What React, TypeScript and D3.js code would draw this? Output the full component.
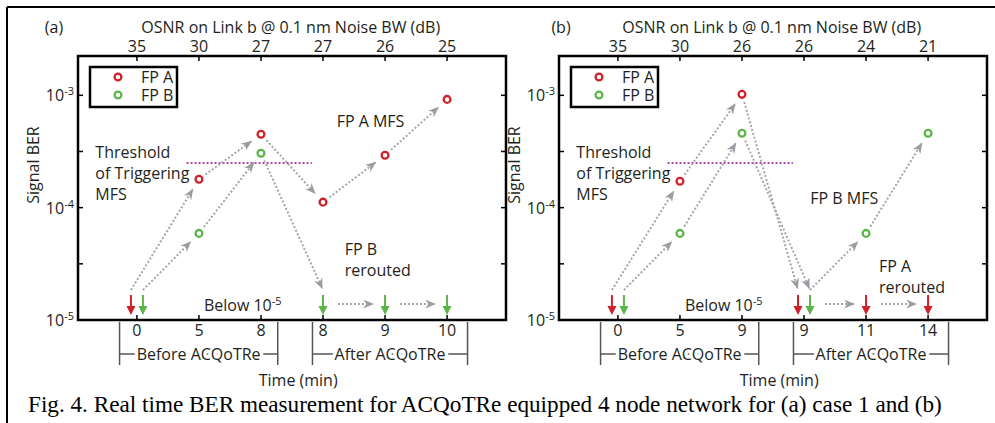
import React from 'react';
import * as d3 from 'd3';

// ---- data ----
const OSNR_A = ['35', '30', '27', '27', '26', '25'];
const TIME_A = ['0', '5', '8', '8', '9', '10'];
const FPA_A = ['below', 1.79e-4, 4.5e-4, 1.12e-4, 2.93e-4, 9.2e-4];
const FPB_A = ['below', 5.9e-5, 3.05e-4, 'below', 'below', 'below'];
const FLOWS_A = [
  ['A', 0, 'A', 1], ['B', 0, 'B', 1], ['A', 1, 'A', 2], ['B', 1, 'B', 2],
  ['A', 2, 'A', 3], ['B', 2, 'B', 3], ['A', 3, 'A', 4], ['A', 4, 'A', 5],
  ['B', 3, 'B', 4], ['B', 4, 'B', 5],
];

const OSNR_B = ['35', '30', '26', '26', '24', '21'];
const TIME_B = ['0', '5', '9', '9', '11', '14'];
const FPA_B = ['below', 1.72e-4, 1.02e-3, 'below', 'below', 'below'];
const FPB_B = ['below', 5.9e-5, 4.6e-4, 'below', 5.9e-5, 4.6e-4];
const FLOWS_B = [
  ['A', 0, 'A', 1], ['B', 0, 'B', 1], ['A', 1, 'A', 2], ['B', 1, 'B', 2],
  ['A', 2, 'A', 3], ['B', 2, 'B', 3], ['B', 3, 'B', 4], ['B', 4, 'B', 5],
  ['B', 3, 'A', 4], ['A', 4, 'A', 5],
];

const THRESHOLD = 2.5e-4;
const Y_TICKS = [-5, -4.5, -4, -3.5, -3];
const Y_LABELS = [-5, -4, -3];
const SERIES_NAMES = ['FP A', 'FP B'];

const RED = '#d2202a';
const GREEN = '#5cb548';
const GRAY = '#a3a7ab';
const INK = '#231f20';
const SANS = '"Open Sans", sans-serif';
const FS = 16;

const TOP = 56;
const BOTTOM = 320;

const PANELS = [
  {
    id: 'a', label: '(a)', labelX: 54, left: 78, right: 506,
    osnr: OSNR_A, time: TIME_A, fpA: FPA_A, fpB: FPB_A, flows: FLOWS_A,
    notes: [
      { lines: ['Threshold', 'of Triggering', 'MFS'], i: -0.67, e: -3.56 },
      { lines: ['FP A MFS'], i: 3.22, e: -3.28 },
      { lines: ['FP B', 'rerouted'], i: 3.35, e: -4.42 },
    ],
  },
  {
    id: 'b', label: '(b)', labelX: 561, left: 559, right: 987,
    osnr: OSNR_B, time: TIME_B, fpA: FPA_B, fpB: FPB_B, flows: FLOWS_B,
    notes: [
      { lines: ['Threshold', 'of Triggering', 'MFS'], i: -0.67, e: -3.56 },
      { lines: ['FP B MFS'], i: 3.1, e: -3.97 },
      { lines: ['FP A', 'rerouted'], i: 4.21, e: -4.57 },
    ],
  },
];

function Pow({ x, y, exp, anchor = 'end', prefix = '' }) {
  return (
    <text x={x} y={y} textAnchor={anchor} fontSize={FS} fill={INK} fontFamily={SANS}>
      {prefix}10
      <tspan dy={-6} fontSize={11}>{exp}</tspan>
    </text>
  );
}

function Panel({ cfg }) {
  const x = d3.scaleLinear().domain([-0.95, 5.95]).range([cfg.left, cfg.right]);
  const y = d3.scaleLog().domain([1e-5, Math.pow(10, -2.65)]).range([BOTTOM, TOP]);
  const y0 = y(1e-5);
  const idx = d3.range(cfg.osnr.length);

  const val = (k, i) => (k === 'A' ? cfg.fpA[i] : cfg.fpB[i]);
  const both = (i) => cfg.fpA[i] === 'below' && cfg.fpB[i] === 'below';
  const px = (k, i) => x(i) + (val(k, i) === 'below' && both(i) ? (k === 'A' ? -6 : 6) : 0);
  const anchor = (k, i) => {
    const v = val(k, i);
    return v === 'below'
      ? { x: px(k, i), y: y0 - 30, below: true }
      : { x: x(i), y: y(v), below: false };
  };

  const flows = cfg.flows.map(([k1, i1, k2, i2], n) => {
    const a = anchor(k1, i1);
    const b = anchor(k2, i2);
    if (a.below && b.below) {
      return { key: n, x1: a.x + 15, y1: y0 - 16, x2: b.x - 12, y2: y0 - 16 };
    }
    const len = Math.hypot(b.x - a.x, b.y - a.y);
    const ux = (b.x - a.x) / len;
    const uy = (b.y - a.y) / len;
    const s = a.below ? 0 : 8;
    const e = b.below ? 2 : 12;
    return { key: n, x1: a.x + ux * s, y1: a.y + uy * s, x2: b.x - ux * e, y2: b.y - uy * e };
  });

  const series = [
    { k: 'A', color: RED, values: cfg.fpA },
    { k: 'B', color: GREEN, values: cfg.fpB },
  ];

  const brackets = [
    { a: -0.28, b: 2.27, text: 'Before ACQoTRe' },
    { a: 2.83, b: 5.33, text: 'After ACQoTRe' },
  ];

  return (
    <g>
      {/* titles */}
      <text x={cfg.labelX} y={33} textAnchor="middle" fontSize={FS} fill={INK} fontFamily={SANS}>{cfg.label}</text>
      <text x={x(2.48)} y={33} textAnchor="middle" fontSize={FS} fill={INK} fontFamily={SANS}>
        OSNR on Link b @ 0.1 nm Noise BW (dB)
      </text>
      <text
        transform={`translate(${cfg.left - 39},165) rotate(-90)`}
        textAnchor="middle" fontSize={FS} fill={INK} fontFamily={SANS}
      >
        Signal BER
      </text>

      {/* threshold */}
      <line
        x1={x(0.8)} x2={x(2.82)} y1={y(THRESHOLD)} y2={y(THRESHOLD)}
        stroke="#b0479e" strokeWidth={2} strokeDasharray="2 2"
      />

      {/* gray dotted flow arrows */}
      {flows.map((f) => (
        <line
          key={f.key} x1={f.x1} y1={f.y1} x2={f.x2} y2={f.y2}
          stroke={GRAY} strokeWidth={2} strokeDasharray="2 2"
          markerEnd={`url(#head-${cfg.id})`}
        />
      ))}

      {/* markers */}
      {series.map((s) =>
        s.values.map((v, i) => {
          if (v === null) return null;
          if (v === 'below') {
            const cx = px(s.k, i);
            return (
              <g key={s.k + i}>
                <line x1={cx} x2={cx} y1={y0 - 25} y2={y0 - 12} stroke={s.color} strokeWidth={2} />
                <path d={`M${cx - 4.5},${y0 - 14}L${cx + 4.5},${y0 - 14}L${cx},${y0 - 5}Z`} fill={s.color} />
              </g>
            );
          }
          return (
            <circle key={s.k + i} cx={x(i)} cy={y(v)} r={3.4} fill="#fff" stroke={s.color} strokeWidth={2.3} />
          );
        })
      )}

      {/* notes */}
      {cfg.notes.map((n, j) => (
        <text key={j} x={x(n.i)} y={y(Math.pow(10, n.e))} fontSize={FS} fill={INK} fontFamily={SANS}>
          {n.lines.map((l, m) => (
            <tspan key={m} x={x(n.i)} dy={m === 0 ? 0 : 21}>{l}</tspan>
          ))}
        </text>
      ))}
      <Pow x={x(1.08)} y={y0 - 9} exp="-5" anchor="start" prefix="Below " />

      {/* axes box */}
      <rect x={cfg.left} y={TOP} width={cfg.right - cfg.left} height={BOTTOM - TOP} fill="none" stroke="#000" strokeWidth={2.5} />
      {idx.map((i) => (
        <g key={i}>
          <line x1={x(i)} x2={x(i)} y1={TOP} y2={TOP + 5} stroke="#000" strokeWidth={1.5} />
          <line x1={x(i)} x2={x(i)} y1={BOTTOM} y2={BOTTOM - 5} stroke="#000" strokeWidth={1.5} />
          <text x={x(i)} y={52} textAnchor="middle" fontSize={FS} fill={INK} fontFamily={SANS}>{cfg.osnr[i]}</text>
          <text x={x(i)} y={336} textAnchor="middle" fontSize={FS} fill={INK} fontFamily={SANS}>{cfg.time[i]}</text>
        </g>
      ))}
      {Y_TICKS.map((e) => (
        <g key={e}>
          <line x1={cfg.left} x2={cfg.left + 5} y1={y(Math.pow(10, e))} y2={y(Math.pow(10, e))} stroke="#000" strokeWidth={1.5} />
          <line x1={cfg.right} x2={cfg.right - 5} y1={y(Math.pow(10, e))} y2={y(Math.pow(10, e))} stroke="#000" strokeWidth={1.5} />
        </g>
      ))}
      {Y_LABELS.map((e) => (
        <Pow key={e} x={cfg.left - 4} y={y(Math.pow(10, e)) + 6} exp={String(e)} />
      ))}

      {/* legend */}
      <rect x={cfg.left + 12} y={TOP + 11} width={87} height={40} fill="#fff" stroke="#000" strokeWidth={2.5} />
      {SERIES_NAMES.map((name, j) => (
        <g key={name}>
          <circle cx={cfg.left + 40} cy={TOP + 21 + j * 18} r={3.4} fill="#fff" stroke={j === 0 ? RED : GREEN} strokeWidth={2.3} />
          <text x={cfg.left + 63} y={TOP + 26.5 + j * 18} fontSize={FS} fill={INK} fontFamily={SANS}>{name}</text>
        </g>
      ))}

      {/* period brackets */}
      {brackets.map((b) => (
        <g key={b.text} stroke="#555" strokeWidth={1.5}>
          <line x1={x(b.a)} x2={x(b.a)} y1={322} y2={365} />
          <line x1={x(b.b)} x2={x(b.b)} y1={322} y2={365} />
          <line x1={x(b.a)} x2={x(b.b)} y1={354} y2={354} />
          <text
            x={(x(b.a) + x(b.b)) / 2} y={359.5} textAnchor="middle" fontSize={FS}
            fill={INK} stroke="#fff" strokeWidth={7} paintOrder="stroke" fontFamily={SANS}
          >
            {b.text}
          </text>
        </g>
      ))}
      <text x={x(2.6)} y={386} textAnchor="middle" fontSize={FS} fill={INK} fontFamily={SANS}>Time (min)</text>

      <defs>
        <marker
          id={`head-${cfg.id}`} viewBox="0 0 10 8" refX={9} refY={4}
          markerWidth={11} markerHeight={9} markerUnits="userSpaceOnUse" orient="auto"
        >
          <path d="M0,0L10,4L0,8L3,4Z" fill="#9a9ea3" />
        </marker>
      </defs>
    </g>
  );
}

export default function App() {
  return (
    <svg
      width={995} height={423}
      style={{ position: 'absolute', left: 0, top: 0, background: '#fff' }}
    >
      <rect width={995} height={423} fill="#fff" />
      <line x1={7} x2={995} y1={7} y2={7} stroke="#000" strokeWidth={2} />
      <line x1={7} x2={7} y1={7} y2={423} stroke="#000" strokeWidth={2} />
      {PANELS.map((p) => (
        <Panel key={p.id} cfg={p} />
      ))}
      <text x={28} y={412} fontSize={23.2} fill="#000" fontFamily='"Liberation Serif", serif'>
        Fig. 4. Real time BER measurement for ACQoTRe equipped 4 node network for (a) case 1 and (b)
      </text>
    </svg>
  );
}
